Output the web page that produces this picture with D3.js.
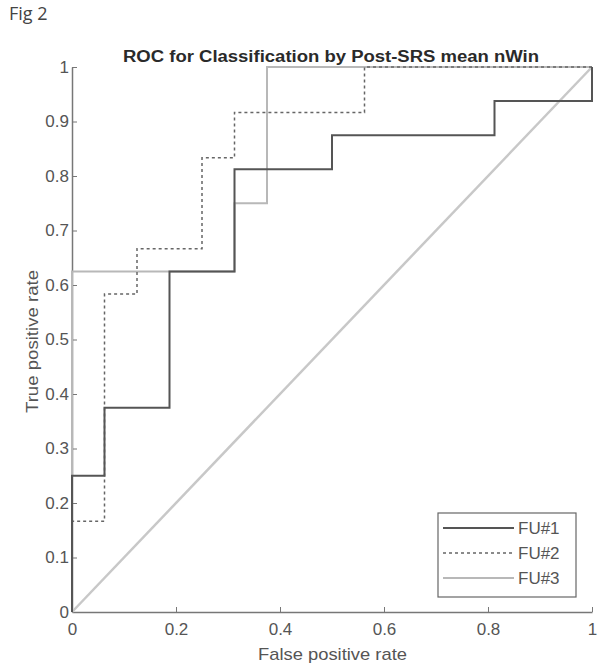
<!DOCTYPE html>
<html>
<head>
<meta charset="utf-8">
<script src="https://cdn.jsdelivr.net/npm/d3@7"></script>
<style>
html,body{margin:0;padding:0;background:#fff;}
svg{display:block;}
text{font-family:"Liberation Sans",Arial,sans-serif;}
</style>
</head>
<body>
<script>
// ---- data ----
const fu1FPR = [0, 0, 0.0625, 0.1875, 0.3125, 0.5, 0.8125, 1];
const fu1TPR = [0, 0.25, 0.375, 0.625, 0.8125, 0.875, 0.9375, 1];
const fu2FPR = [0, 0, 0.0625, 0.125, 0.25, 0.3125, 0.5625, 1];
const fu2TPR = [0, 0.1667, 0.5833, 0.6667, 0.8333, 0.9167, 1, 1];
const fu3FPR = [0, 0, 0.3125, 0.375, 1];
const fu3TPR = [0, 0.625, 0.75, 1, 1];
const chanceFPR = [0, 1];
const chanceTPR = [0, 1];
const seriesNames = ["FU#1", "FU#2", "FU#3"];
const xTicks = [0, 0.2, 0.4, 0.6, 0.8, 1];
const xTickLabels = ["0", "0.2", "0.4", "0.6", "0.8", "1"];
const yTicks = [0, 0.1, 0.2, 0.3, 0.4, 0.5, 0.6, 0.7, 0.8, 0.9, 1];
const yTickLabels = ["0", "0.1", "0.2", "0.3", "0.4", "0.5", "0.6", "0.7", "0.8", "0.9", "1"];
const titleText = "ROC for Classification by Post-SRS mean nWin";
const xTitle = "False positive rate";
const yTitle = "True positive rate";
const figLabel = "Fig 2";

// ---- layout ----
const W = 600, H = 668;
const svg = d3.select("body").append("svg").attr("width", W).attr("height", H);
svg.append("rect").attr("width", W).attr("height", H).attr("fill", "#fff");

const x = d3.scaleLinear().domain([0, 1]).range([72, 592]);
const y = d3.scaleLinear().domain([0, 1]).range([612, 67]);

const zip = (a, b) => a.map((v, i) => [v, b[i]]);
const stepLine = d3.line().x(d => x(d[0])).y(d => y(d[1])).curve(d3.curveStepAfter);
const straight = d3.line().x(d => x(d[0])).y(d => y(d[1]));

// fig label
svg.append("text").attr("x", 9).attr("y", 20).attr("font-size", 18)
  .attr("fill", "#444").style("font-family", "'Open Sans','DejaVu Sans',sans-serif").text(figLabel);

// title
svg.append("text").attr("x", 123).attr("y", 62)
  .attr("font-size", 16).attr("font-weight", "bold").attr("fill", "#2a2a2a")
  .attr("textLength", 416).attr("lengthAdjust", "spacingAndGlyphs").text(titleText);

// axes
const axisColor = "#777";
const xAxis = d3.axisBottom(x).tickValues(xTicks).tickFormat((d, i) => xTickLabels[i])
  .tickSizeInner(-5).tickSizeOuter(0).tickPadding(11);
const gx = svg.append("g").attr("transform", `translate(0,${y(0)})`).call(xAxis);
const yAxis = d3.axisLeft(y).tickValues(yTicks).tickFormat((d, i) => yTickLabels[i])
  .tickSizeInner(-5).tickSizeOuter(0).tickPadding(3);
const gy = svg.append("g").attr("transform", `translate(${x(0)},0)`).call(yAxis);
[gx, gy].forEach(g => {
  g.select(".domain").attr("stroke", axisColor).attr("stroke-width", 1.5);
  g.selectAll(".tick line").attr("stroke", axisColor);
  g.selectAll(".tick text").attr("fill", "#555").attr("font-size", 17)
    .style("font-family", "'Liberation Sans',Arial,sans-serif");
});

// axis titles
svg.append("text").attr("x", 258).attr("y", 660)
  .attr("font-size", 17).attr("fill", "#555")
  .attr("textLength", 149).attr("lengthAdjust", "spacingAndGlyphs").text(xTitle);
svg.append("text").attr("transform", `translate(38,413) rotate(-90)`)
  .attr("font-size", 17).attr("fill", "#555")
  .attr("textLength", 143).attr("lengthAdjust", "spacingAndGlyphs").text(yTitle);

// chance diagonal
svg.append("path").datum(zip(chanceFPR, chanceTPR)).attr("d", straight)
  .attr("fill", "none").attr("stroke", "#c8c8c8").attr("stroke-width", 2.5);

// series
const styles = [
  { color: "#555", width: 2, dash: null },
  { color: "#666", width: 1.5, dash: "3,3" },
  { color: "#b8b8b8", width: 2, dash: null }
];
const series = [zip(fu3FPR, fu3TPR), zip(fu2FPR, fu2TPR), zip(fu1FPR, fu1TPR)];
const order = [2, 1, 0];
series.forEach((data, k) => {
  const s = styles[order[k]];
  svg.append("path").datum(data).attr("d", stepLine)
    .attr("fill", "none").attr("stroke", s.color).attr("stroke-width", s.width)
    .attr("stroke-dasharray", s.dash);
});

// legend
const lg = svg.append("g");
lg.append("rect").attr("x", 438).attr("y", 513).attr("width", 138).attr("height", 84)
  .attr("fill", "#fff").attr("stroke", "#666").attr("stroke-width", 1.2);
seriesNames.forEach((name, i) => {
  const s = styles[i];
  const yy = 528 + i * 25;
  lg.append("line").attr("x1", 443).attr("x2", 514).attr("y1", yy).attr("y2", yy)
    .attr("stroke", s.color).attr("stroke-width", s.width).attr("stroke-dasharray", s.dash);
  lg.append("text").attr("x", 518).attr("y", yy + 6).attr("font-size", 17)
    .attr("fill", "#555").text(name);
});
</script>
</body>
</html>
